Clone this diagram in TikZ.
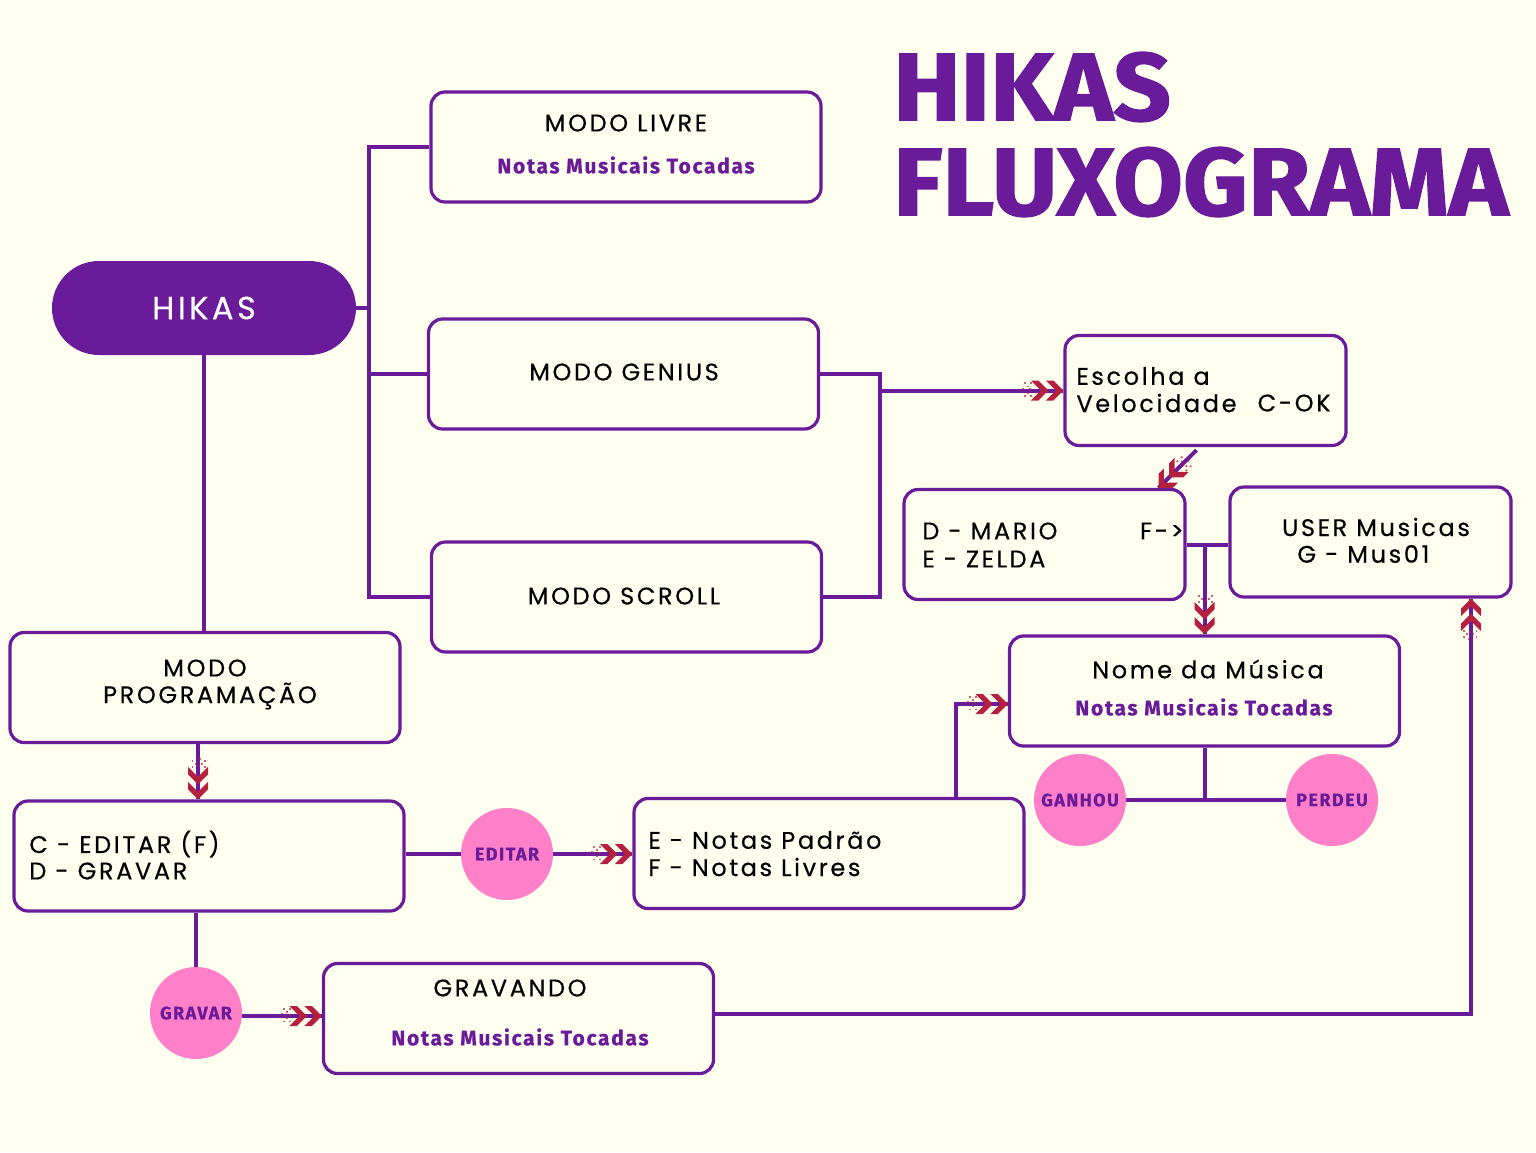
\documentclass[tikz,border=0pt]{standalone}
\usepackage{fontspec}
\usetikzlibrary{decorations.markings,calc}
\newfontfamily\bodyf{Poppins}[LetterSpace=11,FakeBold=0.4]
\newfontfamily\subf{Fira Sans}[LetterSpace=8,BoldFeatures={FakeBold=0.6}]
\newfontfamily\titlef{Fira Sans}[BoldFeatures={FakeBold=1.5}]
\definecolor{purp}{HTML}{6A1B9A}
\definecolor{bgc}{HTML}{FFFFF0}
\definecolor{pinkc}{HTML}{FF80C8}
\definecolor{arrred}{HTML}{B5203E}
\newcommand\mychev{%
  \fill[arrred] (0pt,0pt) -- (-5pt,5pt) -- (-8.8pt,5pt) -- (-3.8pt,0pt) -- (-8.8pt,-5pt) -- (-5pt,-5pt) -- cycle;
  \fill[arrred] (-7.5pt,0pt) -- (-12.5pt,5pt) -- (-16.3pt,5pt) -- (-11.3pt,0pt) -- (-16.3pt,-5pt) -- (-12.5pt,-5pt) -- cycle;
  \foreach \dx/\dy in {-16.5/3.2,-16.5/-3.2,-18/1.6,-18/-1.6,-19.5/3.2,-19.5/-3.2,-17/0.2,-20.5/0.5}
    {\fill[arrred,opacity=0.7] (\dx pt,\dy pt) rectangle ++(0.9pt,0.9pt);}
}
\tikzset{
  chevarrow/.style={postaction={decorate},decoration={markings,mark=at position 1 with {\mychev}}},
  conn/.style={draw=purp,line width=2pt},
  boxw/.style={draw=purp,line width=1.6pt,rounded corners=7pt,fill=bgc,minimum width=195pt,minimum height=55pt,inner sep=0pt},
  boxn/.style={boxw,minimum width=140.5pt},
  pill/.style={fill=purp,rounded corners=23.5pt,minimum width=152pt,minimum height=47pt,inner sep=0pt},
  circ/.style={circle,fill=pinkc,minimum size=46pt,inner sep=0pt,font=\subf\bfseries\fontsize{9}{10}\selectfont,text=purp},
  txt/.style={font=\bodyf\fontsize{12}{14}\selectfont,text=black,inner sep=0pt},
  subt/.style={font=\subf\bfseries\fontsize{10.5}{12}\selectfont,text=purp,inner sep=0pt},
  ttl/.style={font=\titlef\bfseries\fontsize{48}{50}\selectfont,text=purp,inner sep=0pt,anchor=west}
}
\begin{document}
\begin{tikzpicture}[x=0.5pt,y=-0.5pt]
\fill[bgc] (0,0) rectangle (1536,1152);
\useasboundingbox (0,0) rectangle (1536,1152);

% title
\node[ttl] (t1) at (893,87) {\scalebox{1.05}[1]{HIKAS}};
\node[ttl] (t2) at (893,182) {\scalebox{1.05}[1]{FLUXOGRAMA}};

% boxes
\node[pill] (hikas) at (204,308) {};
\node[boxw] (livre) at (626,147) {};
\node[boxw] (genius) at (623.5,374) {};
\node[boxw] (scroll) at (626.5,597) {};
\node[boxw] (prog) at (205,687.5) {};
\node[boxw] (cedit) at (209,856) {};
\node[boxw] (enotas) at (829,853.5) {};
\node[boxw] (gravando) at (518.5,1018.5) {};
\node[boxn] (escolha) at (1205.5,390.5) {};
\node[boxn] (mario) at (1044.5,544.5) {};
\node[boxn] (user) at (1370.5,542) {};
\node[boxw] (nome) at (1204.5,691) {};

% circles
\node[circ] (editar) at (507,854) {EDITAR};
\node[circ] (gravar) at (196,1013) {GRAVAR};
\node[circ] (ganhou) at (1080,800) {GANHOU};
\node[circ] (perdeu) at (1332,800) {PERDEU};

% connectors
\coordinate (tt) at (369,147);
\coordinate (jg) at (880,390.5);
\draw[conn] (livre.west) -| (tt |- scroll.west) -- (scroll.west);
\draw[conn] (hikas.east) -- (hikas.east -| tt);
\draw[conn] (genius.west) -- (genius.west -| tt);
\draw[conn] (genius.east) -| (jg) |- (scroll.east);
\draw[conn,chevarrow] (jg) -- (escolha.west);
\draw[conn,chevarrow] ([xshift=-4.5pt,yshift=-1.5pt]escolha.south) -- ([xshift=57pt]mario.north);
\draw[conn] (mario.east) -- (user.west |- mario.east);
\coordinate (jmu) at (1204.5,544.5);
\draw[conn,chevarrow] (jmu) -- (nome.north);
\draw[conn] (nome.south) -- (nome.south |- ganhou.east);
\draw[conn] (ganhou.east) -- (perdeu.west);
\draw[conn] (hikas.south) -- (hikas.south |- prog.north);
\draw[conn,chevarrow] ([xshift=-3.5pt]prog.south) -- ([xshift=-3.5pt]prog.south |- cedit.north);
\draw[conn] (cedit.east |- editar.west) -- (editar.west);
\draw[conn,chevarrow] (editar.east) -- (enotas.west |- editar.east);
\draw[conn,chevarrow] ([xshift=63.5pt]enotas.north) |- ([yshift=-6.5pt]nome.west);
\draw[conn] (gravar.north) -- (gravar.north |- cedit.south);
\draw[conn,chevarrow] ([yshift=-1.5pt]gravar.east) -- ([yshift=-1.5pt]gravando.west |- gravar.east);
\draw[conn,chevarrow] ([yshift=2.2pt]gravando.east) -| ([xshift=50.25pt]user.south);

% texts
\node[txt,text=white,font=\bodyf\fontsize{16}{18}\selectfont] (hikastx) at (204,308) {HIKAS};
\node[txt] (livre1) at (626,123) {MODO LIVRE};
\node[subt] (livre2) at (626,165) {Notas Musicais Tocadas};
\node[txt] (genius1) at (624,372) {MODO GENIUS};
\node[txt] (scroll1) at (624,596) {MODO SCROLL};
\node[txt] (prog1) at (205,668) {MODO};
\node[txt] (prog2) at (210,696) {PROGRAMAÇÃO};
\node[txt,anchor=west] (cedit1) at (29,844) {C - EDITAR (F)};
\node[txt,anchor=west] (cedit2) at (29,871) {D - GRAVAR};
\node[txt,anchor=west] (enotas1) at (648,840) {E - Notas Padrão};
\node[txt,anchor=west] (enotas2) at (648,867) {F - Notas Livres};
\node[txt] (grav1) at (510,988) {GRAVANDO};
\node[subt] (grav2) at (520,1037) {Notas Musicais Tocadas};
\node[txt,anchor=west] (esc1) at (1076,376) {Escolha a};
\node[txt,anchor=west] (esc2) at (1076,403) {Velocidade};
\node[txt,anchor=east] (esc3) at (1331,403) {C-OK};
\node[txt,anchor=west] (mario1) at (922,531) {D - MARIO};
\node[txt,anchor=west] (mario2) at (922,559) {E - ZELDA};
\node[txt,anchor=east] (mario3) at (1184,531) {F->};
\node[txt] (user1) at (1376,527) {USER Musicas};
\node[txt,anchor=west] (user2) at (1297,554) {G - Mus01};
\node[txt] (nome1) at (1208,669) {Nome da Música};
\node[subt] (nome2) at (1204,707) {Notas Musicais Tocadas};
\end{tikzpicture}
\end{document}
